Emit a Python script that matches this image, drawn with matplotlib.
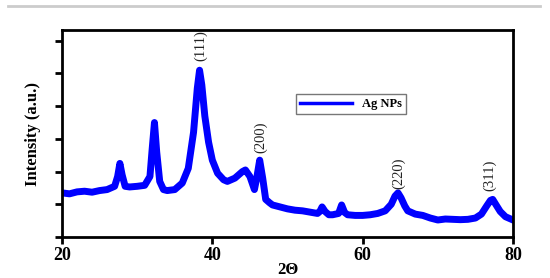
import matplotlib.pyplot as plt
from matplotlib.lines import Line2D

# XRD pattern of Ag NPs (2theta, intensity in tick units)
two_theta = [20, 21, 22, 23, 24, 25, 26, 27, 27.4, 27.7, 28.0, 28.4, 29, 30, 31, 31.7,
             32.0, 32.3, 32.6, 33.0, 33.5, 34, 35, 36, 36.8, 37.5, 38.0, 38.3, 38.6,
             39.0, 39.5, 40, 40.7, 41.5, 42, 43, 44, 44.4, 45, 45.6, 45.9, 46.3, 46.7,
             47.1, 47.6, 48, 49, 50, 51, 52, 53, 54, 54.3, 54.6, 55.0, 55.5, 56, 56.8,
             57.2, 57.6, 58, 59, 60, 61, 62, 63, 63.8, 64.3, 64.7, 65.1, 65.6, 66, 67,
             68, 69, 70, 71, 72, 73, 74, 75, 75.8, 76.5, 77.0, 77.3, 77.7, 78.3, 79, 80]
intensity = [1.35, 1.32, 1.38, 1.40, 1.37, 1.42, 1.45, 1.55, 1.85, 2.25, 1.90, 1.55, 1.53,
             1.55, 1.58, 1.85, 2.70, 3.50, 2.60, 1.70, 1.45, 1.42, 1.45, 1.65, 2.10, 3.20,
             4.55, 5.10, 4.65, 3.70, 2.90, 2.35, 1.95, 1.75, 1.70, 1.80, 2.00, 2.05, 1.85,
             1.45, 1.80, 2.35, 1.80, 1.15, 1.05, 0.98, 0.92, 0.86, 0.82, 0.80, 0.76, 0.72,
             0.78, 0.92, 0.78, 0.68, 0.68, 0.72, 0.98, 0.75, 0.68, 0.66, 0.66, 0.68, 0.72,
             0.80, 1.00, 1.25, 1.35, 1.20, 0.95, 0.80, 0.70, 0.66, 0.58, 0.52, 0.55, 0.54,
             0.53, 0.54, 0.58, 0.70, 0.95, 1.12, 1.15, 1.00, 0.78, 0.62, 0.52]

peak_labels = ['(111)', '(200)', '(220)', '(311)']
peak_pos = [38.5, 46.4, 64.8, 76.9]
peak_y = [5.85, 3.05, 1.95, 1.9]

x_ticks = [20, 40, 60, 80]
y_ticks = [0, 1, 2, 3, 4, 5, 6]

fig = plt.figure(figsize=(5.5, 2.78), dpi=100)
ax = fig.add_axes([62 / 550, 1 - 237 / 278, 451 / 550, 207 / 278])

ax.plot(two_theta, intensity, color='#0000ff', linewidth=5, solid_joinstyle='round',
        label='Ag NPs')

for lab, x, y in zip(peak_labels, peak_pos, peak_y):
    ax.text(x, y, lab, rotation=90, ha='center', va='center', fontsize=10.5,
            family='Liberation Serif', color='#222222')

ax.set_xlim(20, 80)
ax.set_ylim(0, 6.33)
ax.set_xticks(x_ticks)
ax.set_yticks(y_ticks)
ax.set_yticklabels([])
ax.tick_params(direction='out', length=5, width=2, pad=2)
for lab in ax.get_xticklabels():
    lab.set_family('Liberation Serif')
    lab.set_fontweight('bold')
    lab.set_fontsize(13)
for s in ax.spines.values():
    s.set_linewidth(2)

ax.set_xlabel('2Θ', family='Liberation Serif', fontweight='bold', fontsize=12, labelpad=-1)
ax.set_ylabel('Intensity (a.u.)', family='Liberation Serif', fontweight='bold',
              fontsize=12, labelpad=8)

leg = ax.legend(loc='upper left', bbox_to_anchor=(0.505, 0.72), fancybox=False,
                prop={'family': 'Liberation Serif', 'weight': 'bold', 'size': 9},
                handlelength=4.2, borderpad=0.3, framealpha=1)
leg.get_frame().set_edgecolor('#777777')
leg.get_lines()[0].set_linewidth(2.5)

# gray rule at the top of the figure
fig.add_artist(Line2D([8 / 550, 540 / 550], [1 - 6 / 278, 1 - 6 / 278],
                      color='#cccccc', linewidth=2))

fig.savefig('out.png', dpi=100)
